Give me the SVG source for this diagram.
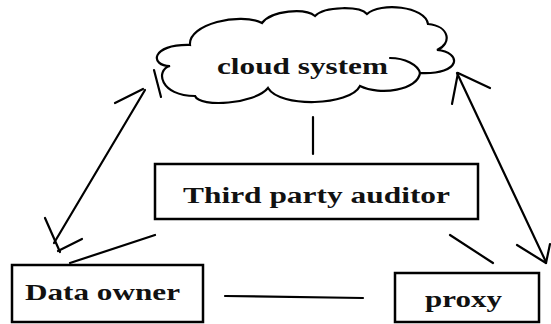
<svg xmlns="http://www.w3.org/2000/svg" width="551" height="324" viewBox="0 0 551 324">
<style>
.box{fill:#fff;stroke:#000;stroke-width:2.5}
.ln{fill:none;stroke:#000;stroke-width:2.2;stroke-linecap:round}
.lbl{font-family:"Liberation Serif","Times New Roman",serif;font-weight:bold;font-size:23px;fill:#111}
</style>
<rect width="551" height="324" fill="#fff"/>
<g id="cloud">
<path class="ln" d="M170,66 C150,66 150,44 190,45 C188,24 240,12 262,23 C272,10 305,8 315,16 C325,6 360,6 367,14 C380,2 425,6 428,24 C450,26 452,44 437,50 C462,52 462,75 420,73 C418,90 380,96 360,86 C350,106 280,108 268,88 C255,104 200,108 195,96 C160,96 155,70 170,66 Z"/>
<path class="ln" d="M390,58 C405,58 418,65 420,73"/>
<text class="lbl" x="217" y="74" textLength="171" lengthAdjust="spacingAndGlyphs">cloud system</text>
</g>
<g id="tpa">
<rect class="box" x="155" y="164" width="323" height="55"/>
<text class="lbl" x="183" y="203" textLength="267" lengthAdjust="spacingAndGlyphs">Third party auditor</text>
</g>
<g id="owner">
<rect class="box" x="12" y="265" width="191" height="57"/>
<text class="lbl" x="25" y="300" textLength="155" lengthAdjust="spacingAndGlyphs">Data owner</text>
</g>
<g id="proxy">
<rect class="box" x="395" y="273" width="144" height="49"/>
<text class="lbl" x="425" y="307" textLength="77" lengthAdjust="spacingAndGlyphs">proxy</text>
</g>
<g id="connectors">
<line class="ln" x1="313" y1="117" x2="313" y2="154"/>
<line class="ln" x1="145" y1="90" x2="54" y2="243"/>
<line class="ln" x1="115" y1="103" x2="143" y2="89"/>
<line class="ln" x1="154" y1="70" x2="161" y2="97"/>
<line class="ln" x1="45" y1="218" x2="60" y2="252"/>
<line class="ln" x1="58" y1="251" x2="82" y2="239"/>
<line class="ln" x1="457" y1="73" x2="546" y2="262"/>
<line class="ln" x1="452" y1="104" x2="458" y2="73"/>
<line class="ln" x1="458" y1="73" x2="490" y2="88"/>
<line class="ln" x1="517" y1="245" x2="546" y2="263"/>
<line class="ln" x1="550" y1="244" x2="546" y2="263"/>
<line class="ln" x1="155" y1="235" x2="70" y2="263"/>
<line class="ln" x1="450" y1="235" x2="493" y2="263"/>
<line class="ln" x1="225" y1="296" x2="363" y2="298"/>
</g>
</svg>
